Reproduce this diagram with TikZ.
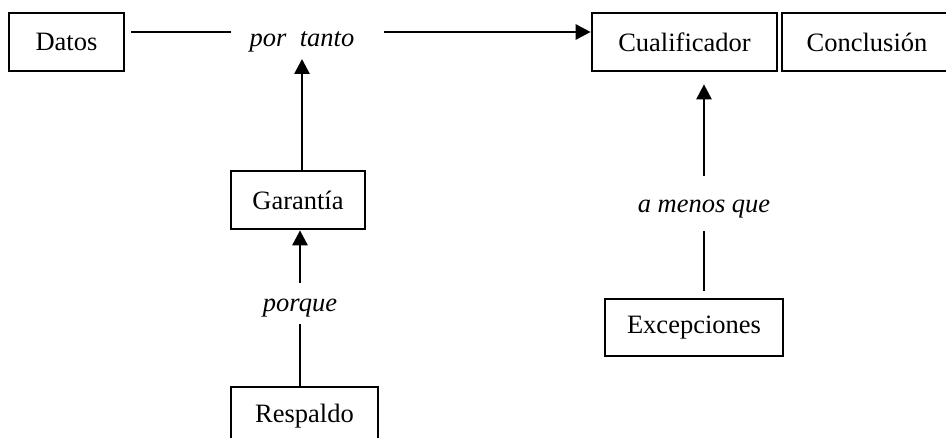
\documentclass[tikz,border=0pt]{standalone}
\usepackage{fontspec}
\setmainfont{Liberation Serif}
\usetikzlibrary{arrows.meta}
\tikzset{
  caja/.style={draw, inner sep=0pt, minimum height=58pt},
  enlace/.style={inner sep=0pt, anchor=base, font=\fontsize{26.5}{30}\selectfont\itshape},
  flecha/.style={-{Triangle[length=15pt,width=15pt]}},
}

\begin{document}
\begin{tikzpicture}[x=1pt, y=-1pt, line width=2.7pt, font=\fontsize{26.5}{30}\selectfont]
\useasboundingbox (0,0) rectangle (946,438);
% fila de arriba
\node[caja, minimum width=115pt] (datos) at (66.5,42) {Datos};
\node[caja, minimum width=185pt] (cual) at (684.5,42) {Cualificador};
\node[caja, minimum width=170pt] (concl) at (867,42) {Conclusión};
\node[enlace] (portanto) at (302,47) {por\ \ tanto};
\coordinate (nivel) at (0,32);
% columna izquierda
\node[caja, minimum width=134pt] (garantia) at (298,200) {Garantía};
\node[enlace] (porque) at (300,312) {porque};
\node[caja, minimum width=147pt] (respaldo) at (304.5,416) {Respaldo};
% columna derecha
\node[enlace] (amenos) at (704,213) {a menos que};
\node[caja, minimum width=178pt, minimum height=57pt] (excep) at (694,327.5) {Excepciones};

\draw[shorten <=6pt, shorten >=17pt] (datos.east |- nivel) -- (portanto.west |- nivel);
\draw[flecha, shorten <=28pt] (portanto.east |- nivel) -- (cual.west |- nivel);
\draw[flecha, shorten >=5pt] (garantia.north -| portanto.south) -- (portanto.south);
\draw[flecha, shorten <=15pt] (porque.north) -- (porque.north |- garantia.south);
\draw[shorten <=5pt] (porque.south) -- (porque.south |- respaldo.north);
\draw[flecha, shorten <=23pt, shorten >=12pt] (amenos.north) -- (amenos.north |- cual.south);
\draw[shorten <=11pt, shorten >=7pt] (amenos.south) -- (amenos.south |- excep.north);
\end{tikzpicture}
\end{document}
